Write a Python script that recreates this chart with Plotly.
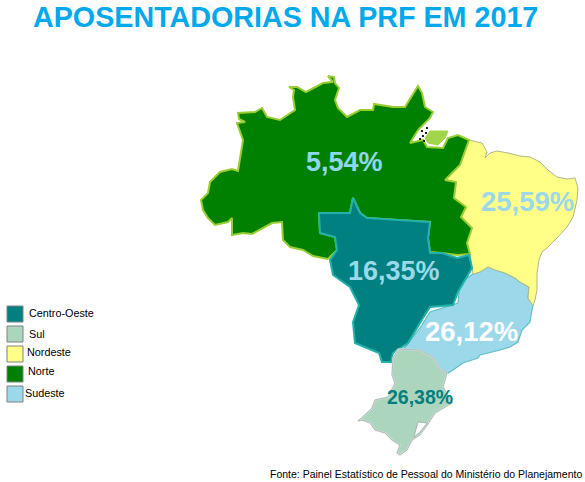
import plotly.graph_objects as go

TITLE = "APOSENTADORIAS NA PRF EM 2017"
SOURCE = "Fonte: Painel Estatístico de Pessoal do Ministério do Planejamento"

regions = ["Sudeste", "Nordeste", "Norte", "Centro-Oeste", "Sul"]
percent_labels = ["26,12%", "25,59%", "5,54%", "16,35%", "26,38%"]
legend_order = ["Centro-Oeste", "Sul", "Nordeste", "Norte", "Sudeste"]

sudeste_x = [473,460,458,430,422,407,393,398,420,433,439,448,450,463,478,480,488,500,510,518,522,530,532,533,528,529,520,515,505,495,488,480,473]
sudeste_y = [274,283,303,312,325,345,360,349,350,357,368,373,372,363,358,355,353,350,347,342,330,322,310,305,298,287,282,278,273,270,267,272,274]

nordeste_x = [469,477,482,487,485,490,497,508,520,530,540,548,557,567,575,578,577,573,567,557,547,542,539,537,537,535,533,528,529,520,515,505,495,488,480,473,470,467,472,461,466,454,456,445,460,469]
nordeste_y = [140,142,143,152,158,153,151,153,156,157,162,170,177,179,178,188,200,217,227,238,248,252,260,273,290,300,306,298,287,282,278,273,270,267,272,274,254,243,228,217,207,198,182,180,165,140]

norte_x = [328,313,303,290,283,282,272,252,243,232,232,228,215,208,203,201,208,210,220,232,238,243,237,245,239,238,255,262,267,280,295,293,294,289,297,306,323,333,328,334,335,339,335,338,347,360,373,374,393,405,418,422,425,433,430,418,410,423,427,443,448,458,469,460,445,456,454,466,461,472,467,470,457,442,430,428,430,367,360,353,350,319,320,335,337,328]
norte_y = [259,256,250,247,240,222,223,234,233,235,218,222,225,218,210,200,193,182,172,169,171,140,123,122,119,113,112,108,117,120,110,97,90,87,87,92,83,82,76,77,83,88,100,108,117,110,110,104,107,107,86,93,107,112,118,130,143,140,147,148,138,135,140,165,180,182,198,207,217,228,243,254,255,253,252,238,222,218,213,198,213,213,233,237,250,259]

centro_x = [430,367,360,353,350,319,320,335,337,330,333,350,359,353,355,379,382,391,393,408,423,430,453,458,472,469,457,442,430,428,430]
centro_y = [222,218,213,198,213,213,233,237,250,260,275,287,305,322,343,353,362,362,353,343,318,307,305,292,268,255,258,253,253,238,222]

sul_x = [398,420,433,439,447,443,452,435,428,420,412,407,400,397,400,392,385,375,370,362,358,367,372,375,388,395,392,393,398]
sul_y = [349,350,357,368,373,387,403,413,424,435,440,450,455,453,445,440,433,430,423,420,421,413,408,400,397,383,375,358,349]

lagoon_x = [418,427,420,414,418]
lagoon_y = [422,423,432,437,422]

marajo_x = [430,448,445,438,428,425,430]
marajo_y = [131,131,138,145,143,138,131]

islets_x = [420,423,426,424,422,427]
islets_y = [139,136,133,141,131,128]

fills = {"Sudeste": "#9BD9EA", "Nordeste": "#FFFF88", "Norte": "#008000", "Centro-Oeste": "#008080", "Sul": "#ACD5BE"}
lines = {"Sudeste": "#5FBFC4", "Nordeste": "#B5B58A", "Norte": "#9ACD32", "Centro-Oeste": "#20B2AA", "Sul": "#E8E8E8"}
widths = {"Sudeste": 1.2, "Nordeste": 1.0, "Norte": 2.0, "Centro-Oeste": 2.0, "Sul": 1.6}
outlines = {"Sudeste": (sudeste_x, sudeste_y), "Nordeste": (nordeste_x, nordeste_y), "Norte": (norte_x, norte_y),
            "Centro-Oeste": (centro_x, centro_y), "Sul": (sul_x, sul_y)}

fig = go.Figure()
for r in regions:
    xs, ys = outlines[r]
    fig.add_trace(go.Scatter(x=xs, y=ys, mode="lines", fill="toself", fillcolor=fills[r],
                             line=dict(color=lines[r], width=widths[r], simplify=False), name=r, hoverinfo="name"))
fig.add_trace(go.Scatter(x=sul_x, y=sul_y, mode="lines", line=dict(color="#8A9A95", width=0.6, simplify=False), hoverinfo="skip"))
fig.add_trace(go.Scatter(x=lagoon_x, y=lagoon_y, mode="lines", fill="toself", fillcolor="#FFFFFF",
                         line=dict(color="#8A9A95", width=0.6), hoverinfo="skip"))
fig.add_trace(go.Scatter(x=marajo_x, y=marajo_y, mode="lines", fill="toself", fillcolor="#A2D54B",
                         line=dict(color="#A2D54B", width=1), hoverinfo="skip"))
fig.add_trace(go.Scatter(x=islets_x, y=islets_y, mode="markers", marker=dict(color="#222222", size=2, symbol="square"),
                         hoverinfo="skip"))

label_pos = {"5,54%": (344, 162, 27, "#8FD6EE"), "25,59%": (527, 201, 27.5, "#9BD9EA"), "16,35%": (394, 271, 27, "#9BD9EA"),
             "26,12%": (471, 331, 27.5, "#FFFFFF"), "26,38%": (419.5, 397, 19.5, "#008080")}
for t in percent_labels:
    x, y, s, c = label_pos[t]
    fig.add_annotation(x=x, y=y, text=f"<b>{t}</b>", showarrow=False, xanchor="center", yanchor="middle",
                       font=dict(family="Liberation Sans", size=s, color=c))

swatch_y = {"Centro-Oeste": 306, "Sul": 326, "Nordeste": 346, "Norte": 366, "Sudeste": 386}
text_pos = {"Centro-Oeste": (27, 313), "Sul": (27, 334), "Nordeste": (25, 352), "Norte": (26, 371), "Sudeste": (23, 393)}
for r in legend_order:
    y0 = swatch_y[r]
    fig.add_shape(type="rect", x0=7, x1=23, y0=y0, y1=y0 + 16, fillcolor=fills[r], line=dict(color="#808080", width=1))
    tx, ty = text_pos[r]
    fig.add_annotation(x=tx, y=ty, text=r, showarrow=False, xanchor="left", yanchor="middle",
                       font=dict(family="Liberation Sans", size=10.8, color="#000000"))

fig.add_annotation(x=285, y=17, text=f"<b>{TITLE}</b>", showarrow=False, xanchor="center", yanchor="middle",
                   font=dict(family="Liberation Sans", size=28.7, color="#00A8EC"))
fig.add_annotation(x=584, y=474, text=SOURCE, showarrow=False, xanchor="right", yanchor="middle",
                   font=dict(family="Liberation Sans", size=10.5, color="#000000"))

fig.update_layout(width=585, height=482, margin=dict(l=0, r=0, t=0, b=0), showlegend=False,
                  paper_bgcolor="white", plot_bgcolor="white",
                  xaxis=dict(range=[0, 585], visible=False, fixedrange=True),
                  yaxis=dict(range=[482, 0], visible=False, fixedrange=True))
fig.write_html("out.html", config={"displayModeBar": False},
               post_script="document.body.style.margin='0';document.body.style.overflow='hidden';")
